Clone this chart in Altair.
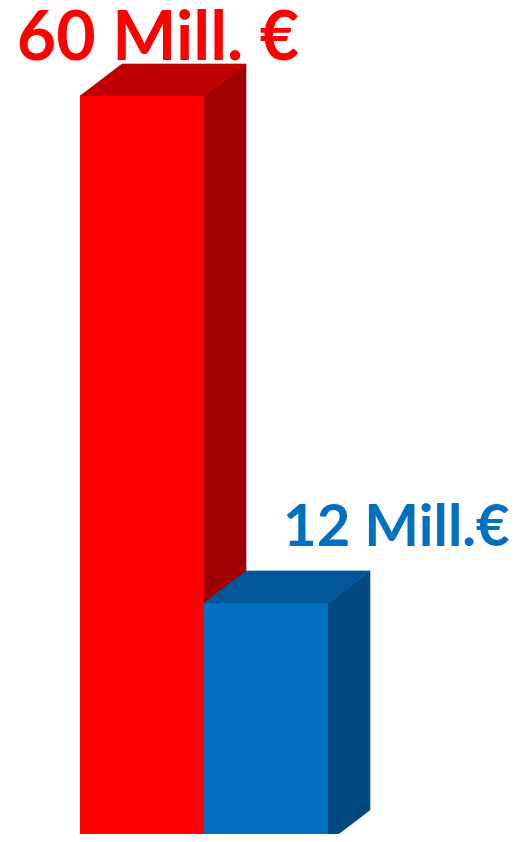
import altair as alt
import pandas as pd

# ---- data ----
labels = ["60 Mill. €", "12 Mill.€"]
values = [60, 12]
front_colors = ["#FF0000", "#0070C0"]
top_colors = ["#C00000", "#00589B"]
side_colors = ["#A00000", "#004A80"]

# ---- layout / styling ----
W, H = 502, 834          # plot area; bottom 8px is cropped by negative padding
X_UNIT = 124             # px per bar width
X0 = 72                  # px of first bar's left edge
DEPTH_X, DEPTH_Y = 42, 32  # 3D extrusion in px
Y_MAX, Y_EXP = 70.25, 0.707


def px_h(v):
    return H * (v / Y_MAX) ** Y_EXP


def val_at(h):
    return Y_MAX * (h / H) ** (1 / Y_EXP)


dx = DEPTH_X / X_UNIT
rows = []
for i, (lab, v, fc, tc, sc) in enumerate(zip(labels, values, front_colors, top_colors, side_colors)):
    vb = val_at(px_h(v) + DEPTH_Y)
    bb = val_at(DEPTH_Y)
    rows.append(dict(face="front", bar=i, x=i, x2=i + 1, y=v, y2=0, color=fc, label=lab))
    rows.append(dict(face="top", bar=i, x=i, x2=i + 1, y=v, y2=None, color=tc, label=lab))
    rows.append(dict(face="top", bar=i, x=i + dx, x2=i + 1 + dx, y=vb, y2=None, color=tc, label=lab))
    rows.append(dict(face="side", bar=i, x=i + 1, x2=None, y=v, y2=0, color=sc, label=lab))
    rows.append(dict(face="side", bar=i, x=i + 1 + dx, x2=None, y=vb, y2=bb, color=sc, label=lab))
    rows.append(dict(face="label", bar=i, x=i + (1 + dx) / 2, x2=None, y=v, y2=None, color=fc, label=lab))

df = pd.DataFrame(rows)

xs = alt.Scale(domain=[-X0 / X_UNIT, (W - X0) / X_UNIT], nice=False, zero=False)
ys = alt.Scale(type="pow", exponent=Y_EXP, domain=[0, Y_MAX], nice=False, zero=True)
X = alt.X("x:Q", scale=xs, axis=None)
Y = alt.Y("y:Q", scale=ys, axis=None)
C = alt.Color("color:N", scale=None)
S = alt.Stroke("color:N", scale=None)

base = alt.Chart(df)

side = base.transform_filter("datum.face == 'side'").mark_area(
    orient="vertical", strokeWidth=0.6
).encode(x=X, y=Y, y2="y2:Q", color=C, stroke=S, detail="bar:N")

top = base.transform_filter("datum.face == 'top'").mark_area(
    orient="horizontal", strokeWidth=0.6
).encode(y=Y, x=X, x2="x2:Q", color=C, stroke=S, detail="bar:N")

front = base.transform_filter("datum.face == 'front'").mark_rect().encode(
    x=X, x2="x2:Q", y=Y, y2="y2:Q", color=C
)

font = "Lato"
lab_red = base.transform_filter("datum.face == 'label' && datum.bar == 0").mark_text(
    align="center", baseline="alphabetic", dx=-5, dy=-36,
    font=font, fontWeight="bold", fontSize=68
).encode(x=X, y=Y, text="label:N", color=C)

lab_blue = base.transform_filter("datum.face == 'label' && datum.bar == 1").mark_text(
    align="left", baseline="alphabetic", dx=-4, dy=-57,
    font=font, fontWeight="bold", fontSize=58
).encode(x=X, y=Y, text="label:N", color=C)

chart = alt.layer(side, top, front, lab_red, lab_blue).properties(
    width=W, height=H,
    padding={"top": 0, "left": 0, "right": 0, "bottom": -8},
    autosize=alt.AutoSizeParams(type="none"),
    background="white"
).configure_view(stroke=None)

chart.save("out.html", embed_options={"renderer": "svg", "actions": False})
